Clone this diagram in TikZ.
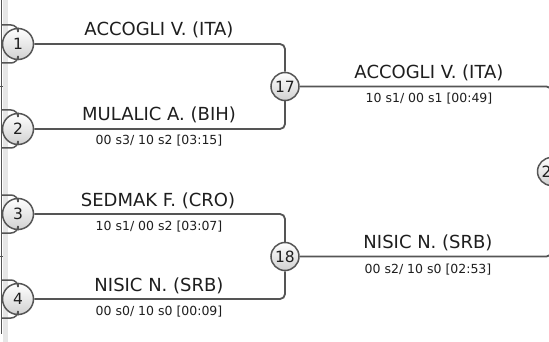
\documentclass[tikz,border=0pt]{standalone}
\usepackage{fontspec}
\setmainfont{DejaVu Sans}
\definecolor{lineg}{HTML}{555555}
\definecolor{bandg}{HTML}{E6E6E6}
\definecolor{txt}{HTML}{1E1E1E}
\begin{document}
\begin{tikzpicture}[x=1pt,y=-1pt,
  conn/.style={draw=lineg, line width=1.8pt, rounded corners=5pt},
  matchc/.style={circle, draw=lineg, line width=1.5pt, top color=white, bottom color=black!18, inner sep=0pt, font=\fontsize{15.5}{15.5}\selectfont, text=txt},
  pname/.style={anchor=base, inner sep=0pt, font=\fontsize{18}{18}\selectfont, text=txt},
  pscore/.style={anchor=base, inner sep=0pt, font=\fontsize{12.5}{12.5}\selectfont, text=txt}]
\useasboundingbox (0,0) rectangle (549,342);
\clip (0,0) rectangle (549,342);
% left edge remnants of the previous column
\fill[bandg] (3,0) rectangle (8,342);
\draw[lineg, line width=1.8pt] (1.5,0) -- (1.5,334);
\draw[lineg, line width=1.5pt] (0,86.5) -- (3,86.5);
\draw[lineg, line width=1.5pt] (0,256.5) -- (3,256.5);
% match circles
\node[matchc, minimum size=31pt] (m1) at (18,44) {1};
\node[matchc, minimum size=31pt] (m2) at (18,129) {2};
\node[matchc, minimum size=31pt] (m3) at (18,214) {3};
\node[matchc, minimum size=31pt] (m4) at (18,299) {4};
\node[matchc, minimum size=28pt] (m17) at (285,86.5) {17};
\node[matchc, minimum size=28pt] (m18) at (285,256.5) {18};
\node[matchc, minimum size=28pt] (m25) at (551.5,171.5) {25};
% stubs entering round-one circles from the left
\coordinate (a1) at (2,25);  \coordinate (b1) at (2,63);
\coordinate (a2) at (2,110); \coordinate (b2) at (2,148);
\coordinate (a3) at (2,195); \coordinate (b3) at (2,233);
\coordinate (a4) at (2,280); \coordinate (b4) at (2,318);
\foreach \i in {1,2,3,4}{
  \draw[conn, line width=1.5pt, rounded corners=7pt] (a\i) -| (m\i.north);
  \draw[conn, line width=1.5pt, rounded corners=7pt] (b\i) -| (m\i.south);
}
% connectors
\draw[conn] (m1.east) -| (m17.north);
\draw[conn] (m2.east) -| (m17.south);
\draw[conn] (m3.east) -| (m18.north);
\draw[conn] (m4.east) -| (m18.south);
\draw[conn] (m17.east) -| (m25.north);
\draw[conn] (m18.east) -| (m25.south);
% labels
\node[pname] (n1) at (159,36) {ACCOGLI V. (ITA)};
\node[pname] (n2) at (159,121) {MULALIC A. (BIH)};
\node[pscore] (s2) at (159,145) {00 s3/ 10 s2 [03:15]};
\node[pname] (n3) at (158,206) {SEDMAK F. (CRO)};
\node[pscore] (s3) at (159,230) {10 s1/ 00 s2 [03:07]};
\node[pname] (n4) at (159,291) {NISIC N. (SRB)};
\node[pscore] (s4) at (159,315) {00 s0/ 10 s0 [00:09]};
\node[pname] (n17) at (429,78.5) {ACCOGLI V. (ITA)};
\node[pscore] (s17) at (429,103) {10 s1/ 00 s1 [00:49]};
\node[pname] (n18) at (428,248.5) {NISIC N. (SRB)};
\node[pscore] (s18) at (428,273) {00 s2/ 10 s0 [02:53]};
\end{tikzpicture}
\end{document}
